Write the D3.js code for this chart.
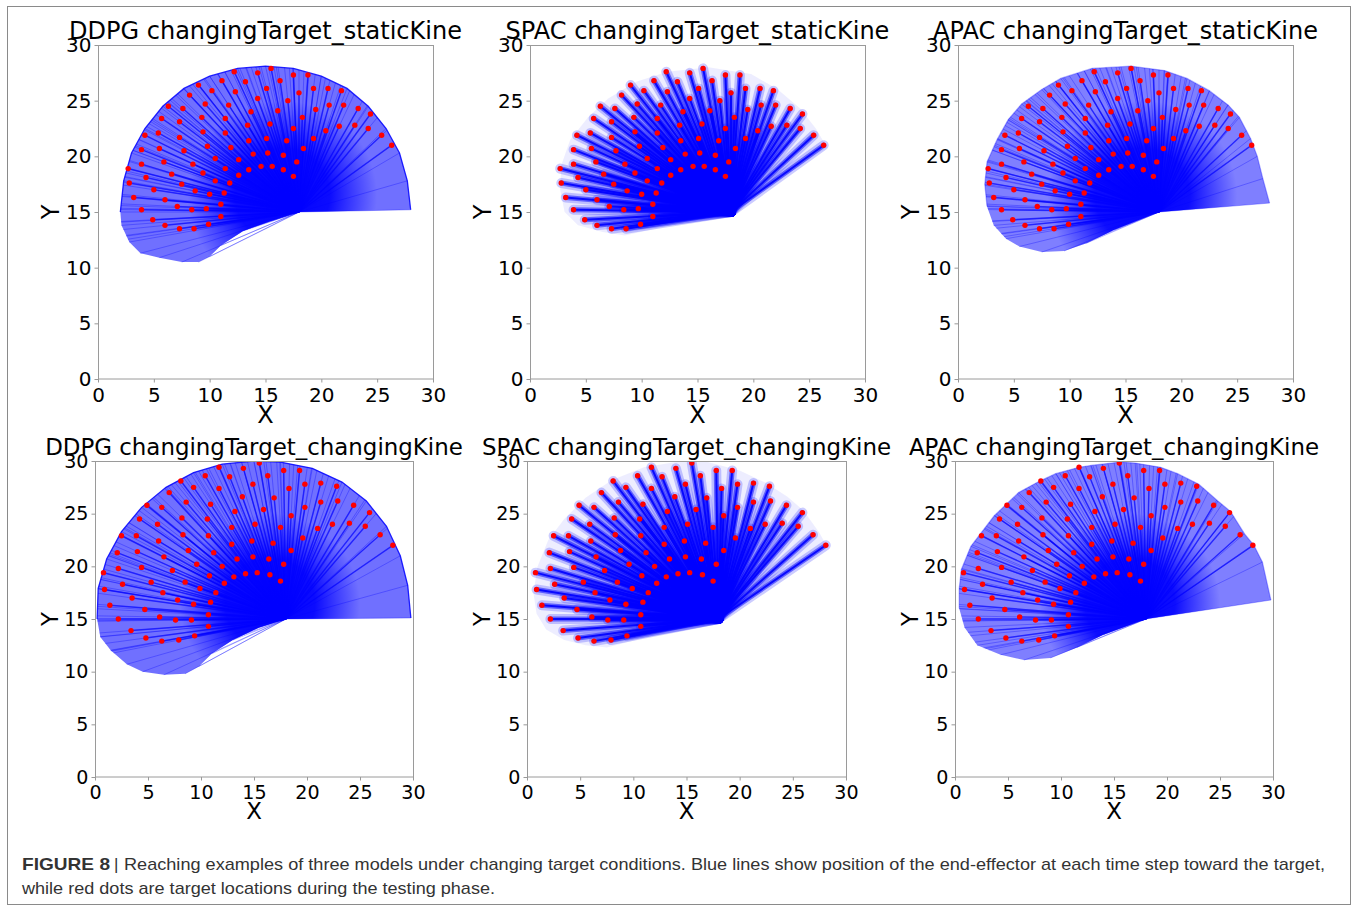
<!DOCTYPE html>
<html><head><meta charset="utf-8">
<script src="https://cdn.jsdelivr.net/npm/d3@7"></script>
<style>body{margin:0;background:#fff}</style>
</head><body>
<svg id="c" width="1358" height="908"></svg>
<script>
// ---------- DATA ----------
const axisTicks = [0, 5, 10, 15, 20, 25, 30];
const basePoint = [18, 15];

const panelTitles = [
  "DDPG changingTarget_staticKine", "SPAC changingTarget_staticKine", "APAC changingTarget_staticKine",
  "DDPG changingTarget_changingKine", "SPAC changingTarget_changingKine", "APAC changingTarget_changingKine"
];

// target locations (red dots), top row
const targetsStaticKine = [
[15.5,27.9],[12.2,27.6],[14.3,27.5],[17.5,27.3],[18.8,27.3],[11.1,26.8],[13.2,26.7],[16.3,26.8],[9.0,26.4],[20.6,26.1],
[15.1,26.1],[19.3,26.1],[10.2,25.9],[12.3,25.8],[21.8,25.9],[18.0,25.7],[8.2,25.5],[14.3,25.2],[17.0,25.0],[9.6,24.7],
[11.7,24.6],[20.7,24.6],[22.0,24.6],[6.3,24.5],[7.6,24.3],[23.3,24.3],[19.5,24.2],[13.7,24.0],[16.1,24.1],[24.4,23.8],
[18.3,23.5],[5.7,23.4],[9.3,23.5],[11.4,23.4],[7.3,23.1],[15.4,22.9],[13.4,22.8],[21.6,22.7],[23.0,22.8],[17.5,22.5],
[24.2,22.5],[20.4,22.3],[9.4,22.2],[11.4,22.1],[5.4,22.1],[4.2,21.9],[25.4,21.9],[7.3,21.7],[15.1,21.6],[19.3,21.6],
[13.5,21.4],[16.9,21.4],[26.3,21.0],[9.8,20.9],[11.9,20.8],[3.9,20.6],[5.5,20.7],[18.4,20.7],[7.7,20.5],[15.2,20.3],
[13.9,20.2],[16.6,20.1],[10.5,19.8],[12.6,19.7],[5.9,19.5],[3.9,19.3],[8.5,19.3],[17.8,19.5],[14.6,19.1],[15.6,19.1],
[2.7,18.9],[11.4,18.9],[13.5,18.8],[16.6,18.8],[9.4,18.5],[6.6,18.4],[12.6,18.3],[17.5,18.2],[4.3,18.1],[10.5,17.8],
[2.8,17.6],[7.5,17.5],[11.8,17.6],[5.0,17.0],[8.7,16.9],[11.3,16.7],[10.0,16.6],[3.2,16.3],[6.0,16.1],[11.0,15.7],
[7.1,15.5],[3.9,15.2],[8.4,15.2],[9.7,15.3],[11.0,14.6],[4.9,14.3],[9.9,13.9],[6.0,13.8],[7.3,13.5],[8.6,13.5]
];

// target locations (red dots), bottom row
const targetsChangingKine = [
[15.5,29.8],[11.7,29.4],[14.0,29.3],[17.8,29.1],[19.3,29.1],[10.4,28.6],[12.7,28.5],[16.3,28.6],[8.1,28.1],[9.3,27.5],
[11.7,27.4],[14.9,27.8],[18.3,27.4],[19.8,27.8],[21.3,27.9],[22.8,27.6],[7.0,27.0],[13.9,26.6],[16.9,26.5],[4.9,25.8],
[6.3,25.6],[8.6,26.1],[10.9,25.9],[13.2,25.2],[15.9,25.4],[19.8,25.6],[21.3,26.1],[22.9,26.2],[24.4,25.8],[25.9,25.1],
[18.5,24.8],[4.2,24.5],[8.2,24.6],[10.6,24.5],[5.9,24.0],[15.1,24.0],[12.9,23.7],[17.5,23.7],[21.0,23.6],[22.4,24.0],
[24.0,24.1],[25.5,23.8],[2.5,22.9],[3.9,22.9],[8.3,23.0],[10.7,22.9],[19.6,22.7],[26.9,23.0],[6.0,22.4],[14.8,22.4],
[12.9,22.1],[16.8,22.2],[2.1,21.3],[4.0,21.4],[8.8,21.5],[11.2,21.3],[18.5,21.5],[28.1,22.0],[6.5,20.9],[13.4,20.7],
[14.9,20.9],[16.4,20.7],[9.6,20.2],[12.0,20.0],[17.8,20.2],[2.2,19.8],[4.4,19.9],[0.8,19.4],[7.3,19.6],[14.2,19.3],
[15.3,19.4],[16.5,19.2],[10.8,19.1],[13.1,19.0],[17.5,18.6],[5.3,18.5],[8.5,18.5],[2.6,18.3],[12.2,18.4],[0.9,17.8],
[9.9,17.9],[6.4,17.5],[11.4,17.5],[3.5,17.0],[7.8,16.8],[10.9,16.6],[9.3,16.4],[1.4,16.3],[4.7,15.9],[10.7,15.4],
[2.2,15.0],[6.1,15.2],[7.6,14.9],[9.1,14.9],[10.7,14.3],[3.4,13.9],[9.4,13.4],[4.8,13.2],[6.3,12.9],[7.9,13.0]
];

// outline of the area swept by the blue trajectories, per panel
const envDDPGStatic = [[18,15],[28,15.2],[27.7,17.8],[27.0,20.3],[25.8,22.5],[24.2,24.5],[22.3,26.1],[20,27.2],[17.5,27.9],[15,28.1],
  [12.5,27.9],[10,27.2],[7.7,26.1],[5.8,24.5],[4.2,22.5],[3,20.3],[2.3,17.8],[2,15],[2.1,13.8],[2.8,12.3],[3.8,11.3],
  [5.5,10.9],[7.5,10.5],[9,10.5],[10,11],[11,12],[13,13.3],[15.5,14.2]];
const envSPACStatic = [[18,15],[26.6,20.8],[25.6,22.5],[24.2,24.3],[22.2,26],[19.8,27.4],[16,28],[12.3,27.6],[9.5,26.7],[7,25.2],
  [5.2,23.5],[3.6,21.5],[2.8,19.2],[2.7,17],[3.1,15],[4.3,13.8],[6.5,13.2],[8.5,12.9]];
const envAPACStatic = [[18,15],[27.9,15.8],[27.3,18],[26.8,20],[26.2,21.6],[25.2,23.5],[24.2,24.6],[22.5,25.9],[20.5,27],[18.5,27.7],
  [15.5,28.1],[12,27.9],[9.2,27],[7.5,26],[5.7,24.7],[4.5,23.3],[3.5,21.5],[2.6,19.5],[2.4,17.5],[2.6,15.5],[3.2,13.8],
  [4.3,12.6],[5.5,11.9],[7.5,11.4],[9.5,11.5],[11.5,12.2],[14,13.4]];
const envDDPGChanging = [[18,15],[29.8,15.1],[29.5,18.2],[28.8,21],[27.5,23.8],[25.6,26.2],[23.3,28],[20.5,29.3],[17.5,29.9],[15,30],
  [12,29.7],[9.3,28.9],[6.7,27.5],[4.4,25.6],[2.5,23.3],[1.1,20.7],[0.3,17.9],[0.2,15],[0.5,13.3],[1.5,12],[3,10.7],
  [4.5,10],[6.5,9.7],[8.5,9.8],[9.8,10.5],[11,11.7],[13,13],[15.5,14.2]];
const envSPACChanging = [[18,15],[28.2,21.9],[27.5,23.2],[26,25.3],[24.5,26.6],[22.5,27.9],[20,29.1],[17,29.9],[14,29.9],[11,29.4],
  [8,28.2],[5.5,26.5],[3.5,24.5],[2,22.5],[1,20],[0.6,17.5],[0.9,15.5],[1.8,14],[3.5,13],[5.5,12.5],[7.5,12.3]];
const envAPACChanging = [[18,15],[29.8,16.8],[29.0,20.4],[28.2,22],[27.3,23.1],[26,25.2],[24.8,26.2],[23,27.8],[21,28.8],[19.4,29.4],
  [17,29.8],[15.6,29.9],[13,29.6],[11.7,29.4],[9.5,28.8],[8,28.1],[6,27],[3.7,24.8],[1.5,21.9],[0.6,19.7],[0.4,17.9],
  [0.4,16],[0.9,14.2],[2.1,12.5],[4.3,11.6],[6.5,11.1],[9,11.3],[11.5,12.3],[14,13.5]];

// ---------- LAYOUT ----------
const svg = d3.select("#c");
const defs = svg.append("defs");
svg.append("rect").attr("x",7.5).attr("y",6.5).attr("width",1343).attr("height",898)
  .attr("fill","none").attr("stroke","#8a8a8a").attr("stroke-width",1);

const panels = [
  {title: panelTitles[0], targets: targetsStaticKine, env: envDDPGStatic, kind: "fan", fill: 0.56, edge: 0.85, x0: 98,  y0: 45,  w: 335, h: 334, s: 1},
  {title: panelTitles[1], targets: targetsStaticKine, env: envSPACStatic, kind: "band", x0: 530, y0: 45,  w: 335, h: 334, s: 1},
  {title: panelTitles[2], targets: targetsStaticKine, env: envAPACStatic, kind: "fan", fill: 0.5, edge: 0.3, x0: 958, y0: 45,  w: 335, h: 334, s: 1},
  {title: panelTitles[3], targets: targetsChangingKine, env: envDDPGChanging, kind: "fan", fill: 0.56, edge: 0.85, x0: 95,  y0: 461, w: 318, h: 316, s: 0.955},
  {title: panelTitles[4], targets: targetsChangingKine, env: envSPACChanging, kind: "band", x0: 527, y0: 461, w: 319, h: 316, s: 0.955},
  {title: panelTitles[5], targets: targetsChangingKine, env: envAPACChanging, kind: "fan", fill: 0.5, edge: 0.3, x0: 955, y0: 461, w: 318, h: 316, s: 0.955}
];

const font = "'DejaVu Sans', sans-serif";

// farthest intersection of the ray base->t with the outline polygon
function rayHit(env, t) {
  const [bx, by] = basePoint, dx = t[0] - bx, dy = t[1] - by;
  let best = 1;
  for (let k = 0; k < env.length; k++) {
    const a = env[k], b = env[(k + 1) % env.length];
    const ex = b[0] - a[0], ey = b[1] - a[1];
    const den = dx * ey - dy * ex;
    if (Math.abs(den) < 1e-9) continue;
    const u = ((a[0] - bx) * ey - (a[1] - by) * ex) / den;
    const v = ((a[0] - bx) * dy - (a[1] - by) * dx) / den;
    if (v >= 0 && v <= 1 && u > best) best = u;
  }
  return [bx + dx * best, by + dy * best];
}

panels.forEach((p, i) => {
  const x = d3.scaleLinear().domain([0, 30]).range([p.x0, p.x0 + p.w]);
  const y = d3.scaleLinear().domain([0, 30]).range([p.y0 + p.h, p.y0]);
  const g = svg.append("g");
  const line = d3.line().x(d => x(d[0])).y(d => y(d[1]));
  defs.append("clipPath").attr("id", "clip" + i).append("rect")
    .attr("x", p.x0).attr("y", p.y0).attr("width", p.w).attr("height", p.h);
  defs.append("clipPath").attr("id", "env" + i).append("path").attr("d", line(p.env) + "Z");
  const grad = defs.append("radialGradient").attr("id", "core" + i)
    .attr("gradientUnits", "userSpaceOnUse")
    .attr("cx", x(basePoint[0] - 1.5)).attr("cy", y(basePoint[1] + 1.5))
    .attr("r", x(p.kind === "fan" ? 8.5 : 6) - x(0));
  grad.append("stop").attr("offset", 0).attr("stop-color", "#0000ff").attr("stop-opacity", 1);
  grad.append("stop").attr("offset", 0.5).attr("stop-color", "#0000ff").attr("stop-opacity", 0.9);
  grad.append("stop").attr("offset", 1).attr("stop-color", "#0000ff").attr("stop-opacity", 0);

  const plot = g.append("g").attr("clip-path", `url(#clip${i})`);

  if (p.kind === "fan") {
    plot.append("path").attr("d", line(p.env) + "Z")
      .attr("fill", "#0000ff").attr("fill-opacity", p.fill).attr("stroke", "none");
    // darker rim along the outer (upper) edge
    plot.append("path").attr("d", line(p.env.filter(d => d[1] >= 15 && d !== p.env[0])))
      .attr("fill", "none").attr("stroke", "#0000ff").attr("stroke-opacity", p.edge).attr("stroke-width", 1.3);
    plot.selectAll(".ray").data(p.env).enter().append("path")
      .attr("d", d => line([basePoint, d]))
      .attr("stroke", "#0000ff").attr("stroke-opacity", 0.3).attr("stroke-width", 1).attr("fill", "none");
    plot.selectAll(".ext").data(p.targets).enter().append("path")
      .attr("d", d => line([basePoint, rayHit(p.env, d)]))
      .attr("stroke", "#0000ff").attr("stroke-opacity", 0.3).attr("stroke-width", 1).attr("fill", "none");
    plot.selectAll(".tl").data(p.targets).enter().append("path")
      .attr("d", d => line([basePoint, d]))
      .attr("stroke", "#0000ff").attr("stroke-opacity", 0.6).attr("stroke-width", 1.5).attr("fill", "none");
    plot.append("g").attr("clip-path", `url(#env${i})`).append("rect")
      .attr("x", p.x0).attr("y", p.y0).attr("width", p.w).attr("height", p.h).attr("fill", `url(#core${i})`);
  } else {
    plot.append("path").attr("d", line(p.env) + "Z")
      .attr("fill", "#0000ff").attr("fill-opacity", 0.07).attr("stroke", "none");
    plot.selectAll(".halo").data(p.targets).enter().append("path")
      .attr("d", d => line([basePoint, d]))
      .attr("stroke", "#0000ff").attr("stroke-opacity", 0.2).attr("stroke-width", 10)
      .attr("stroke-linecap", "round").attr("fill", "none");
    plot.selectAll(".mid").data(p.targets).enter().append("path")
      .attr("d", d => line([basePoint, d]))
      .attr("stroke", "#0000ff").attr("stroke-opacity", 0.5).attr("stroke-width", 5)
      .attr("stroke-linecap", "round").attr("fill", "none");
    plot.selectAll(".core").data(p.targets).enter().append("path")
      .attr("d", d => line([basePoint, d]))
      .attr("stroke", "#0000ff").attr("stroke-opacity", 0.9).attr("stroke-width", 2).attr("fill", "none");
  }

  plot.selectAll(".dot").data(p.targets).enter().append("circle")
    .attr("cx", d => x(d[0])).attr("cy", d => y(d[1])).attr("r", 2.7).attr("fill", "#ff0000");

  // axes
  const tf = 20 * p.s, lf = 24 * p.s;
  const xa = g.append("g").attr("transform", `translate(0,${p.y0 + p.h})`)
    .call(d3.axisBottom(x).tickValues(axisTicks).tickSize(3.5).tickPadding(5).tickFormat(d3.format("d")));
  const ya = g.append("g").attr("transform", `translate(${p.x0},0)`)
    .call(d3.axisLeft(y).tickValues(axisTicks).tickSize(3.5).tickPadding(3).tickFormat(d3.format("d")));
  [xa, ya].forEach(a => {
    a.select(".domain").remove();
    a.selectAll(".tick line").attr("stroke", "#999");
    a.selectAll(".tick text").attr("font-family", font).attr("font-size", tf).attr("fill", "#000");
  });
  g.append("rect").attr("x", p.x0 + 0.5).attr("y", p.y0 + 0.5).attr("width", p.w).attr("height", p.h - 0.5)
    .attr("fill", "none").attr("stroke", "#9a9a9a").attr("stroke-width", 1);

  // labels
  g.append("text").attr("x", p.x0 + p.w / 2).attr("y", p.y0 + p.h + 44 * p.s)
    .attr("text-anchor", "middle").attr("font-family", font).attr("font-size", lf).text("X");
  g.append("text").attr("transform", `translate(${p.x0 - 39 * p.s},${p.y0 + p.h / 2}) rotate(-90)`)
    .attr("text-anchor", "middle").attr("font-family", font).attr("font-size", lf).text("Y");
  g.append("text").attr("x", p.x0 + p.w / 2).attr("y", p.y0 - 6)
    .attr("text-anchor", "middle").attr("font-family", font).attr("font-size", lf).text(p.title);
});

// caption
const capFont = "'Liberation Sans', Arial, sans-serif";
svg.append("text").attr("x", 22).attr("y", 870).attr("font-family", capFont).attr("font-size", 17)
  .attr("font-weight", "bold").attr("fill", "#333").attr("textLength", 88).attr("lengthAdjust", "spacingAndGlyphs")
  .text("FIGURE 8");
svg.append("text").attr("x", 114).attr("y", 870).attr("font-family", capFont).attr("font-size", 17)
  .attr("fill", "#333").text("|");
svg.append("text").attr("x", 124).attr("y", 870).attr("font-family", capFont).attr("font-size", 17)
  .attr("fill", "#333").attr("textLength", 1201).attr("lengthAdjust", "spacingAndGlyphs")
  .text("Reaching examples of three models under changing target conditions. Blue lines show position of the end-effector at each time step toward the target,");
svg.append("text").attr("x", 22).attr("y", 894).attr("font-family", capFont).attr("font-size", 17)
  .attr("fill", "#333").attr("textLength", 473).attr("lengthAdjust", "spacingAndGlyphs")
  .text("while red dots are target locations during the testing phase.");
</script>
</body></html>
